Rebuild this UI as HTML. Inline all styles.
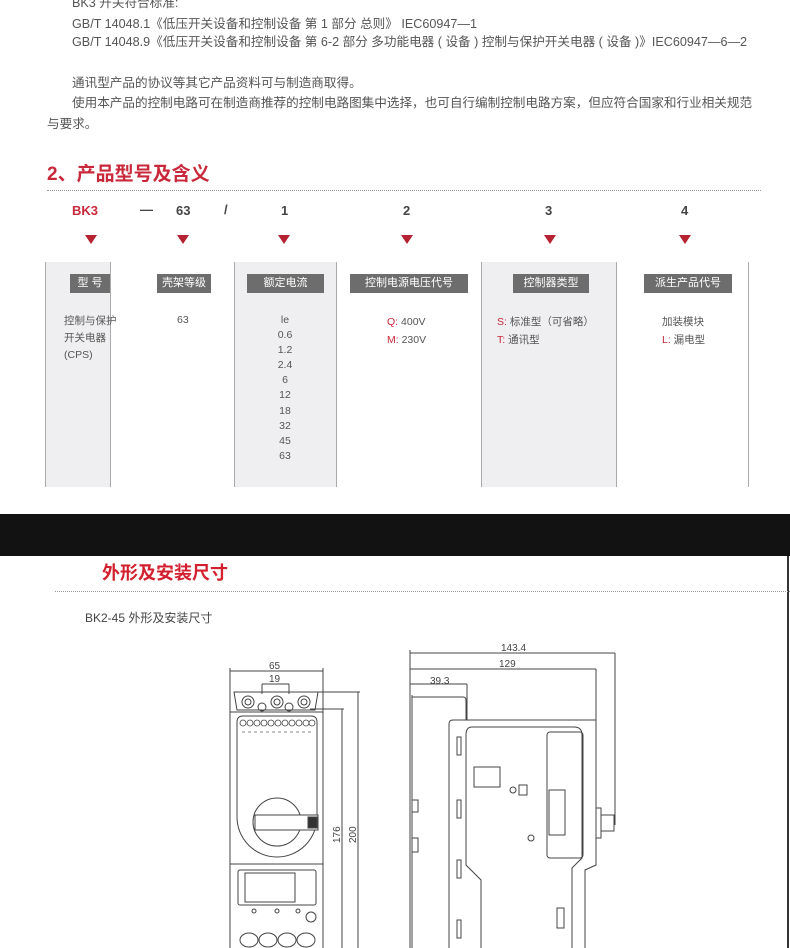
<!DOCTYPE html>
<html><head><meta charset="utf-8"><style>
html,body{margin:0;padding:0;background:#fff;}
body{width:790px;height:948px;position:relative;overflow:hidden;font-family:"Liberation Sans","Noto Sans CJK SC",sans-serif;color:#555;}
.t{position:absolute;font-size:12.6px;white-space:nowrap;line-height:15px;}
.h{position:absolute;color:#c9283a;font-weight:bold;white-space:nowrap;}
.dot{position:absolute;border-top:1px dotted #999;height:0;}
.m{position:absolute;font-size:13px;font-weight:bold;color:#444;line-height:16px;}
.tri{position:absolute;width:0;height:0;border-left:6px solid transparent;border-right:6px solid transparent;border-top:9px solid #b52232;}
.p{position:absolute;top:262px;height:225px;background:#efeff1;border-left:1px solid #aaa;border-right:1px solid #aaa;}
.hd{position:absolute;top:274px;height:19px;background:#6d6d6d;color:#fff;font-size:11px;line-height:19px;text-align:center;}
.c{position:absolute;font-size:10.5px;line-height:15px;color:#555;}
.r{color:#c9283a;}
</style></head><body>
<div class="t" style="left:72px;top:-4px;">BK3 开关符合标准:</div>
<div class="t" style="left:72px;top:17px;">GB/T 14048.1《低压开关设备和控制设备 第 1 部分 总则》 IEC60947—1</div>
<div class="t" style="left:72px;top:35px;">GB/T 14048.9《低压开关设备和控制设备 第 6-2 部分 多功能电器 ( 设备 ) 控制与保护开关电器 ( 设备 )》IEC60947—6—2</div>
<div class="t" style="left:72px;top:76px;">通讯型产品的协议等其它产品资料可与制造商取得。</div>
<div class="t" style="left:72px;top:96px;">使用本产品的控制电路可在制造商推荐的控制电路图集中选择，也可自行编制控制电路方案，但应符合国家和行业相关规范</div>
<div class="t" style="left:47px;top:117px;">与要求。</div>
<div class="h" style="left:47px;top:159px;font-size:19px;">2、产品型号及含义</div>
<div class="dot" style="left:47px;top:190px;width:714px;"></div>

<div class="m r" style="left:72px;top:203px;color:#c9283a;">BK3</div>
<div class="m" style="left:140px;top:202px;">—</div>
<div class="m" style="left:176px;top:203px;">63</div>
<div class="m" style="left:224px;top:202px;">/</div>
<div class="m" style="left:281px;top:203px;">1</div>
<div class="m" style="left:403px;top:203px;">2</div>
<div class="m" style="left:545px;top:203px;">3</div>
<div class="m" style="left:681px;top:203px;">4</div>
<div class="tri" style="left:85px;top:235px;"></div>
<div class="tri" style="left:177px;top:235px;"></div>
<div class="tri" style="left:278px;top:235px;"></div>
<div class="tri" style="left:401px;top:235px;"></div>
<div class="tri" style="left:544px;top:235px;"></div>
<div class="tri" style="left:679px;top:235px;"></div>

<div class="p" style="left:45px;width:64px;"></div>
<div class="p" style="left:234px;width:101px;"></div>
<div class="p" style="left:481px;width:134px;"></div>
<div style="position:absolute;left:748px;top:262px;height:225px;border-left:1px solid #aaa;"></div>
<div class="hd" style="left:70px;width:40px;">型 号</div>
<div class="hd" style="left:157px;width:54px;">壳架等级</div>
<div class="hd" style="left:247px;width:77px;">额定电流</div>
<div class="hd" style="left:350px;width:118px;">控制电源电压代号</div>
<div class="hd" style="left:513px;width:76px;">控制器类型</div>
<div class="hd" style="left:644px;width:88px;">派生产品代号</div>

<div class="c" style="left:64px;top:313px;line-height:17px;">控制与保护<br>开关电器<br>(CPS)</div>
<div class="c" style="left:177px;top:313px;">63</div>
<div class="c" style="left:270px;top:313px;text-align:center;width:30px;line-height:15.1px;">le<br>0.6<br>1.2<br>2.4<br>6<br>12<br>18<br>32<br>45<br>63</div>
<div class="c" style="left:387px;top:313px;line-height:18px;"><span class="r">Q:</span> 400V<br><span class="r">M:</span> 230V</div>
<div class="c" style="left:497px;top:313px;line-height:18px;"><span class="r">S:</span> 标准型（可省略）<br><span class="r">T:</span> 通讯型</div>
<div class="c" style="left:662px;top:313px;line-height:18px;">加装模块<br><span class="r">L:</span> 漏电型</div>

<div style="position:absolute;left:0;top:514px;width:790px;height:42px;background:#121212;"></div>
<div style="position:absolute;left:787px;top:556px;width:2px;height:392px;background:#333;"></div>
<div class="h" style="left:102px;top:559px;font-size:18px;color:#d3202e;">外形及安装尺寸</div>
<div class="dot" style="left:55px;top:591px;width:735px;"></div>
<div class="t" style="left:85px;top:611px;font-size:12px;color:#444;">BK2-45 外形及安装尺寸</div>

<svg style="position:absolute;left:0;top:0" width="790" height="948" viewBox="0 0 790 948" fill="none" stroke="#444" stroke-width="1">
<g font-family="Liberation Sans" font-size="10" fill="#444" stroke="none">
<text x="269" y="669">65</text><text x="269" y="682">19</text>
<text x="501" y="651">143.4</text><text x="499" y="667">129</text><text x="430" y="684">39.3</text>
<text transform="translate(340,843) rotate(-90)">176</text>
<text transform="translate(356,843) rotate(-90)">200</text>
</g>
<line x1="230" y1="671" x2="323" y2="671"/><line x1="230" y1="668" x2="230" y2="692"/><line x1="323" y1="668" x2="323" y2="692"/>
<line x1="262" y1="684" x2="289" y2="684"/><line x1="262" y1="684" x2="262" y2="694"/><line x1="289" y1="684" x2="289" y2="694"/>
<line x1="318" y1="692" x2="360" y2="692"/><line x1="310" y1="709" x2="344" y2="709"/>
<line x1="342" y1="709" x2="342" y2="948"/><line x1="358" y1="692" x2="358" y2="948"/>
<line x1="230" y1="692" x2="230" y2="948"/><line x1="323" y1="692" x2="323" y2="948"/>
<path d="M234 692 L318 692 L315 710 L237 710 Z"/>
<circle cx="248" cy="702" r="6"/><circle cx="248" cy="702" r="3"/>
<circle cx="277" cy="702" r="6"/><circle cx="277" cy="702" r="3"/>
<circle cx="304" cy="702" r="6"/><circle cx="304" cy="702" r="3"/>
<circle cx="262" cy="707" r="4"/><circle cx="289" cy="707" r="4"/>
<line x1="230" y1="712" x2="323" y2="712"/>
<path d="M237 722 Q237 716 243 716 L311 716 Q317 716 317 722 L317 817 A40 40 0 0 1 237 817 Z"/>
<g stroke-width="0.8">
<circle cx="243" cy="723" r="3"/><circle cx="250" cy="723" r="3"/><circle cx="257" cy="723" r="3"/><circle cx="264" cy="723" r="3"/><circle cx="271" cy="723" r="3"/><circle cx="278" cy="723" r="3"/><circle cx="285" cy="723" r="3"/><circle cx="292" cy="723" r="3"/><circle cx="299" cy="723" r="3"/><circle cx="306" cy="723" r="3"/><circle cx="312" cy="723" r="3"/>
</g>
<line x1="242" y1="732" x2="313" y2="732" stroke-dasharray="3 3" stroke="#888"/>
<circle cx="277" cy="822" r="24"/>
<path d="M255 815 L318 815 L318 830 L255 830 Z" fill="#fff"/>
<rect x="308" y="817" width="9" height="11" fill="#333"/>
<line x1="230" y1="864" x2="323" y2="864"/>
<rect x="238" y="870" width="78" height="35" rx="2"/>
<rect x="245" y="873" width="50" height="29"/>
<circle cx="254" cy="911" r="2"/><circle cx="277" cy="911" r="2"/><circle cx="298" cy="911" r="2"/><circle cx="311" cy="917" r="5"/>
<ellipse cx="249" cy="940" rx="9" ry="7"/><ellipse cx="268" cy="940" rx="9" ry="7"/><ellipse cx="287" cy="940" rx="9" ry="7"/><ellipse cx="306" cy="940" rx="9" ry="7"/>
<line x1="410" y1="653" x2="615" y2="653"/><line x1="615" y1="653" x2="615" y2="825"/>
<line x1="410" y1="669" x2="596" y2="669"/><line x1="596" y1="669" x2="596" y2="740"/>
<line x1="410" y1="684" x2="467" y2="684"/><line x1="467" y1="684" x2="467" y2="720"/>
<line x1="410" y1="650" x2="410" y2="948"/><line x1="412" y1="695" x2="412" y2="948"/>
<path d="M412 697 L463 697 Q466 697 466 700 L466 720"/>
<path d="M412 800 L418 800 L418 812 L412 812 M412 838 L418 838 L418 852 L412 852"/>
<path d="M449 948 L449 724 Q449 720 453 720 L596 720 L596 865 L585 870 L585 948"/>
<path d="M481 948 L481 880 L466 865 L466 735 Q466 727 472 727 L574 727 Q582 727 582 735 L582 858 L572 868 L572 948"/>
<rect x="457" y="737" width="4" height="18"/><rect x="457" y="800" width="4" height="18"/><rect x="457" y="860" width="4" height="18"/><rect x="457" y="920" width="4" height="18"/>
<rect x="474" y="767" width="26" height="20"/>
<circle cx="513" cy="790" r="3"/><rect x="519" y="785" width="8" height="10"/><circle cx="531" cy="838" r="3"/>
<rect x="547" y="732" width="36" height="126" rx="3"/>
<rect x="549" y="790" width="16" height="45"/>
<rect x="557" y="908" width="7" height="20"/>
<rect x="596" y="808" width="5" height="30"/>
<rect x="601" y="815" width="13" height="16"/>
</svg>
</body></html>
